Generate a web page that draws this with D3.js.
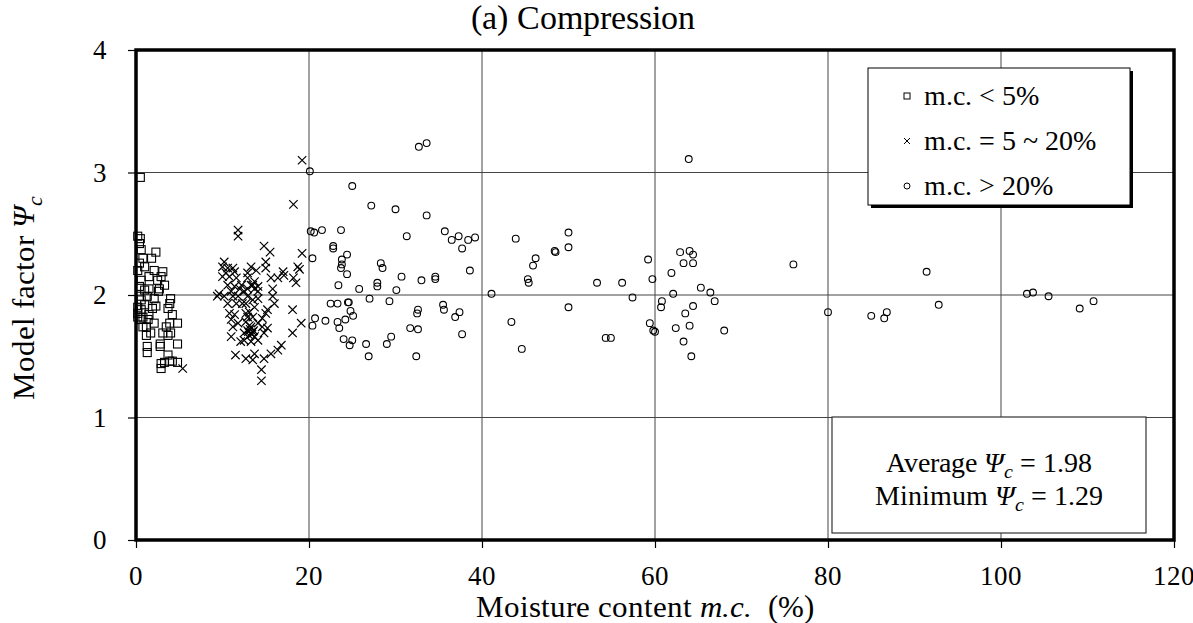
<!DOCTYPE html>
<html><head><meta charset="utf-8">
<script src="https://cdn.jsdelivr.net/npm/d3@7"></script>
<style>
@font-face{font-family:"ChartSerif";src:local("Liberation Serif"),local("LiberationSerif"),local("Liberation Serif Regular"),local("LiberationSerif-Regular");font-style:normal;}
@font-face{font-family:"ChartSerif";src:local("Liberation Serif Italic"),local("LiberationSerif-Italic");font-style:italic;}
body{margin:0;background:#fff}svg{display:block}
svg text, svg tspan{font-family:"ChartSerif","Liberation Serif",serif !important;}
</style>
</head><body><svg id="c" width="1193" height="623"></svg>
<script>
const xTicks=[0,20,40,60,80,100,120];
const yTicks=[0,1,2,3,4];
const legendLabels=["m.c. < 5%","m.c. = 5 ~ 20%","m.c. > 20%"];
const statAvg="1.98", statMin="1.29";
// m.c. < 5%
const squares=[[0.5,2.96],[0.2,2.48],[0.5,2.46],[0.4,2.42],[2.3,2.35],[1.8,2.30],[0.6,2.37],[0.8,2.30],[0.4,2.26],[1.0,2.23],[2.1,2.20],[3.1,2.19],[2.9,2.15],[1.5,2.15],[2.5,2.12],[3.3,2.08],[2.7,2.05],[2.6,2.03],[0.6,2.12],[0.4,2.07],[1.0,2.04],[1.5,2.05],[4.0,1.97],[3.9,1.93],[2.1,1.97],[0.6,1.96],[1.0,1.92],[2.3,1.91],[4.2,1.84],[3.7,1.89],[0.6,1.88],[1.5,1.84],[1.4,1.80],[2.1,1.77],[3.9,1.77],[4.8,1.77],[0.6,1.80],[0.8,1.74],[1.2,1.74],[3.5,1.74],[4.0,1.69],[3.1,1.69],[1.7,1.69],[1.2,1.67],[3.7,1.67],[4.8,1.60],[1.3,1.58],[1.3,1.53],[2.8,1.60],[2.8,1.58],[3.7,1.51],[2.9,1.44],[2.9,1.40],[3.3,1.45],[3.9,1.46],[4.2,1.46],[4.8,1.45],[0.2,1.85],[0.2,2.20],[0.2,1.90],[0.4,1.99],[0.2,1.82],[0.8,1.82],[1.9,1.89],[1.3,1.99]];
// m.c. = 5 ~ 20%
const crosses=[[5.4,1.40],[19.2,3.10],[18.2,2.74],[11.8,2.53],[11.8,2.48],[14.8,2.40],[15.5,2.35],[19.2,2.34],[15.0,2.27],[15.0,2.22],[17.0,2.19],[17.1,2.16],[18.7,2.23],[18.9,2.21],[18.2,2.14],[18.5,2.10],[10.2,2.27],[10.6,2.22],[11.2,2.22],[11.4,2.19],[10.4,2.18],[10.0,2.15],[10.8,2.15],[11.6,2.14],[13.3,2.23],[13.9,2.20],[12.9,2.18],[12.9,2.14],[13.7,2.11],[13.3,2.08],[14.1,2.07],[13.7,2.05],[15.6,2.14],[16.4,2.14],[15.8,2.05],[10.6,2.08],[11.4,2.07],[12.0,2.05],[11.0,2.03],[9.6,2.01],[10.2,1.99],[9.4,1.99],[11.2,1.99],[12.5,2.03],[12.9,1.99],[13.5,1.96],[14.1,1.97],[15.8,1.99],[16.0,1.93],[10.6,1.93],[11.6,1.93],[10.8,1.85],[11.4,1.84],[11.0,1.80],[11.8,1.77],[11.2,1.74],[12.7,1.85],[13.1,1.86],[13.7,1.90],[13.5,1.82],[15.0,1.85],[15.2,1.88],[14.6,1.81],[15.2,1.73],[14.8,1.69],[13.3,1.74],[12.9,1.71],[12.5,1.69],[13.5,1.70],[13.1,1.67],[13.7,1.66],[12.5,1.63],[13.3,1.62],[14.1,1.63],[11.0,1.66],[12.1,1.62],[11.5,1.51],[12.7,1.48],[13.7,1.52],[13.5,1.47],[14.8,1.48],[15.6,1.52],[16.4,1.55],[16.8,1.59],[14.5,1.39],[14.5,1.30],[18.1,1.88],[18.1,1.69],[19.1,1.77],[12.3,1.93],[12.7,1.78],[14.1,1.77],[14.6,1.74],[12.9,1.82],[11.8,1.99],[12.2,2.08],[12.9,2.05],[13.5,2.08],[14.1,2.03],[12.7,1.93],[10.0,2.23],[13.0,1.70],[13.2,1.72],[13.4,1.68],[13.6,1.71],[13.1,1.75],[13.3,1.69]];
// m.c. > 20%
const circles=[[32.7,3.21],[33.6,3.24],[20.1,3.01],[25.0,2.89],[27.2,2.73],[30.0,2.70],[33.6,2.65],[20.2,2.52],[20.6,2.51],[21.5,2.53],[23.7,2.53],[31.3,2.48],[35.7,2.52],[36.5,2.45],[37.3,2.48],[38.4,2.45],[39.2,2.47],[37.7,2.38],[22.8,2.40],[22.8,2.38],[20.4,2.30],[24.4,2.33],[23.8,2.29],[23.8,2.25],[23.7,2.22],[24.4,2.17],[28.3,2.26],[28.5,2.22],[30.7,2.15],[33.0,2.12],[34.6,2.15],[34.6,2.13],[38.6,2.20],[23.4,2.08],[25.8,2.05],[27.9,2.10],[27.9,2.07],[30.1,2.04],[27.0,1.97],[29.3,1.95],[22.5,1.93],[23.3,1.93],[24.5,1.94],[24.6,1.94],[24.8,1.87],[25.1,1.83],[24.2,1.80],[23.3,1.78],[23.5,1.73],[20.7,1.81],[20.4,1.75],[21.9,1.79],[24.0,1.64],[25.0,1.63],[24.7,1.59],[26.6,1.60],[26.9,1.50],[29.0,1.60],[29.5,1.66],[31.7,1.73],[32.6,1.88],[32.5,1.85],[32.6,1.72],[32.4,1.50],[35.5,1.92],[35.6,1.88],[37.4,1.86],[36.9,1.82],[37.7,1.68],
[41.1,2.01],[63.9,3.11],[43.9,2.46],[50.0,2.51],[50.0,2.39],[48.4,2.36],[48.5,2.35],[46.2,2.30],[45.9,2.24],[45.3,2.13],[45.4,2.10],[53.3,2.10],[56.2,2.10],[57.4,1.98],[50.0,1.90],[43.4,1.78],[44.6,1.56],[54.3,1.65],[54.9,1.65],[59.2,2.29],[59.7,2.13],[59.4,1.77],[59.8,1.71],[60.0,1.70],[62.9,2.35],[64.0,2.36],[64.4,2.33],[63.3,2.26],[64.4,2.26],[61.9,2.18],[62.1,2.01],[60.8,1.95],[60.7,1.90],[65.3,2.06],[66.4,2.02],[66.9,1.95],[64.4,1.91],[63.5,1.85],[64.0,1.75],[62.4,1.73],[63.3,1.62],[64.2,1.50],
[68.0,1.71],[76.0,2.25],[80.0,1.86],[85.0,1.83],[86.5,1.81],[86.8,1.86],[91.4,2.19],[92.8,1.92],[103.0,2.01],[103.7,2.02],[105.5,1.99],[109.1,1.89],[110.7,1.95]];

const svg=d3.select("#c");
const L=136,R=1174,T=50,B=540;
const x=d3.scaleLinear().domain([0,120]).range([L,R]);
const y=d3.scaleLinear().domain([0,4]).range([B,T]);
const SERIF="ChartSerif, Liberation Serif, serif";

// grid
svg.append("g").selectAll("line").data(xTicks.slice(1,-1)).join("line")
 .attr("x1",d=>x(d)).attr("x2",d=>x(d)).attr("y1",T).attr("y2",B).attr("stroke","#444").attr("stroke-width",1);
svg.append("g").selectAll("line").data(yTicks.slice(1,-1)).join("line")
 .attr("y1",d=>y(d)).attr("y2",d=>y(d)).attr("x1",L).attr("x2",R).attr("stroke","#444").attr("stroke-width",1);

// axes: tick marks from d3 axes
const xa=svg.append("g").attr("transform",`translate(0,${B})`).call(d3.axisBottom(x).tickValues(xTicks).tickSize(8).tickFormat(""));
const ya=svg.append("g").attr("transform",`translate(${L},0)`).call(d3.axisLeft(y).tickValues(yTicks).tickSize(8).tickFormat(""));
[xa,ya].forEach(a=>{a.attr("font-family",null).attr("font-size",null);a.select(".domain").remove();a.selectAll("line").attr("stroke","#000").attr("stroke-width",1.2);a.selectAll("text").remove();});

// points
const sz=8;
svg.append("g").selectAll("rect").data(squares).join("rect")
 .attr("x",d=>x(d[0])-sz/2).attr("y",d=>y(d[1])-sz/2).attr("width",sz).attr("height",sz)
 .attr("fill","none").attr("stroke","#000").attr("stroke-width",1.1);
svg.append("g").selectAll("path").data(crosses).join("path")
 .attr("d",d=>{const cx=x(d[0]),cy=y(d[1]),h=4.2;return `M${cx-h},${cy-h}L${cx+h},${cy+h}M${cx-h},${cy+h}L${cx+h},${cy-h}`;})
 .attr("stroke","#000").attr("stroke-width",1.2).attr("fill","none");
svg.append("g").selectAll("circle").data(circles).join("circle")
 .attr("cx",d=>x(d[0])).attr("cy",d=>y(d[1])).attr("r",3.4)
 .attr("fill","none").attr("stroke","#000").attr("stroke-width",1.1);

// frame
svg.append("rect").attr("x",L).attr("y",T).attr("width",R-L).attr("height",B-T)
 .attr("fill","none").attr("stroke","#000").attr("stroke-width",3.5);

// legend
svg.append("rect").attr("x",871).attr("y",71).attr("width",262).attr("height",137).attr("fill","#000");
svg.append("rect").attr("x",868).attr("y",68).attr("width",262).attr("height",137).attr("fill","#fff").attr("stroke","#000").attr("stroke-width",1);
const rowY=[96,141,186];
legendLabels.forEach((t,i)=>{
 const cy=rowY[i], cx=907;
 if(i===0) svg.append("rect").attr("x",cx-3).attr("y",cy-3).attr("width",6).attr("height",6).attr("fill","none").attr("stroke","#000").attr("stroke-width",1);
 else if(i===1) svg.append("path").attr("d",`M${cx-3},${cy-3}L${cx+3},${cy+3}M${cx-3},${cy+3}L${cx+3},${cy-3}`).attr("stroke","#000").attr("stroke-width",1);
 else svg.append("circle").attr("cx",cx).attr("cy",cy).attr("r",3).attr("fill","none").attr("stroke","#000").attr("stroke-width",1);
});

// stats box
svg.append("rect").attr("x",832).attr("y",417).attr("width",314).attr("height",116).attr("fill","#fff").attr("stroke","#333").attr("stroke-width",1.2);

// ---- all texts ----
xTicks.forEach(v=>{
 svg.append("text").attr("x",x(v)).attr("y",B+45).attr("font-family",SERIF).attr("font-size",27).attr("text-anchor","middle").text(d3.format("d")(v));
});
yTicks.forEach(v=>{
 svg.append("text").attr("x",L-29).attr("y",y(v)+9).attr("font-family",SERIF).attr("font-size",27).attr("text-anchor","end").text(d3.format("d")(v));
});
legendLabels.forEach((t,i)=>{
 svg.append("text").attr("x",924).attr("y",rowY[i]+9).attr("font-family",SERIF).attr("font-size",28).text(t);
});
function psiLine(label,val,yy){
 const t=svg.append("text").attr("x",989).attr("y",yy).attr("font-family",SERIF).attr("font-size",28).attr("text-anchor","middle");
 t.append("tspan").text(label+" ");
 t.append("tspan").attr("font-style","italic").text("Ψ");
 t.append("tspan").attr("font-style","italic").attr("font-size",20).attr("dy",6).text("c");
 t.append("tspan").attr("dy",-6).text(" = "+val);
}
psiLine("Average",statAvg,472);
psiLine("Minimum",statMin,505);
svg.append("text").attr("x",583).attr("y",29).attr("font-family",SERIF).attr("font-size",34).attr("text-anchor","middle").text("(a) Compression");
const xt=svg.append("text").attr("x",645).attr("y",617).attr("font-family",SERIF).attr("font-size",31).attr("text-anchor","middle");
xt.append("tspan").text("Moisture content ");
xt.append("tspan").attr("font-style","italic").text("m.c.");
xt.append("tspan").text("\u00a0 (%)");
const yt=svg.append("text").attr("transform","translate(34,298) rotate(-90)").attr("font-family",SERIF).attr("font-size",31).attr("text-anchor","middle");
yt.append("tspan").text("Model factor ");
yt.append("tspan").attr("font-style","italic").text("Ψ");
yt.append("tspan").attr("font-style","italic").attr("font-size",22).attr("dy",8).text("c");
</script></body></html>
